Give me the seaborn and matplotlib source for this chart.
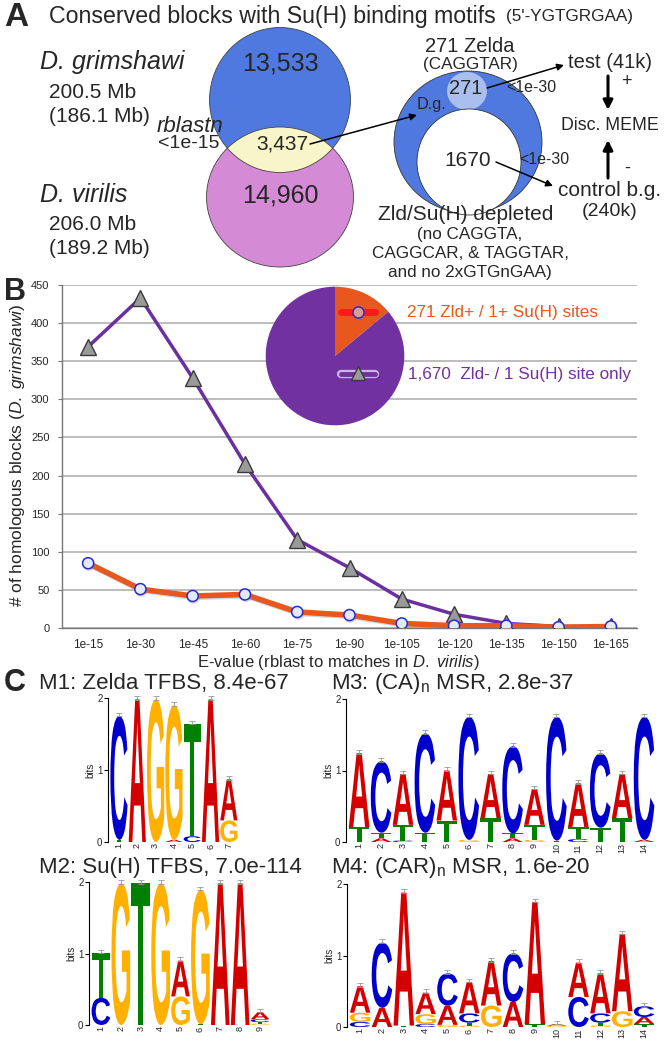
import numpy as np
import pandas as pd
import matplotlib
matplotlib.use('Agg')
import matplotlib.pyplot as plt
import matplotlib.patheffects as pe
from matplotlib.patches import Ellipse, PathPatch
from matplotlib.textpath import TextPath
from matplotlib.font_manager import FontProperties
from matplotlib import transforms
import seaborn as sns

# ---- datos panel B ----
evalues = ['1e-15', '1e-30', '1e-45', '1e-60', '1e-75', '1e-90',
           '1e-105', '1e-120', '1e-135', '1e-150', '1e-165']
zld_plus = [85, 51, 42, 44, 21, 17, 6, 3, 3, 1, 2]
zld_minus = [369, 433, 328, 215, 116, 79, 38, 18, 6, 2, 2]
pie_counts = [271, 1670]
pie_labels = ['271 Zld+ / 1+ Su(H) sites', '1,670  Zld- / 1 Su(H) site only']

# ---- datos panel A ----
venn_counts = ['13,533', '3,437', '14,960']
zelda_counts = ['271', '1670']

# ---- logos (letra, bits) de abajo hacia arriba ----
m1 = [[('T', 0.03), ('C', 1.72)], [('A', 1.98)], [('G', 1.98)],
      [('A', 0.03), ('G', 1.87)], [('C', 0.08), ('T', 1.56)], [('A', 1.98)],
      [('G', 0.3), ('A', 0.57)]]
m2 = [[('C', 0.38), ('T', 0.63)], [('G', 1.98)], [('T', 1.98)], [('G', 1.98)],
      [('G', 0.4), ('A', 0.5)], [('T', 0.01), ('G', 1.88)], [('A', 1.98)],
      [('A', 1.98)], [('G', 0.02), ('T', 0.02), ('C', 0.04), ('A', 0.1)]]
m3 = [[('T', 0.21), ('A', 1.03)], [('A', 0.05), ('T', 0.08), ('C', 1.0)],
      [('C', 0.02), ('T', 0.22), ('A', 0.71)], [('T', 0.13), ('C', 1.39)],
      [('T', 0.3), ('A', 0.7)], [('G', 0.03), ('C', 1.72)],
      [('T', 0.33), ('A', 0.62)], [('A', 0.05), ('T', 0.07), ('C', 1.22)],
      [('G', 0.03), ('T', 0.21), ('A', 0.5)], [('T', 0.02), ('C', 1.73)],
      [('C', 0.04), ('T', 0.17), ('A', 0.61)], [('T', 0.2), ('C', 1.04)],
      [('T', 0.33), ('A', 0.62)], [('A', 0.03), ('C', 1.72)]]
m4 = [[('C', 0.07), ('G', 0.13), ('A', 0.37)], [('A', 0.27), ('C', 0.91)],
      [('T', 0.02), ('A', 1.86)], [('C', 0.04), ('G', 0.14), ('A', 0.3)],
      [('G', 0.03), ('A', 0.27), ('C', 0.45)],
      [('G', 0.02), ('T', 0.04), ('C', 0.13), ('A', 0.44)],
      [('G', 0.3), ('A', 0.62)], [('A', 0.35), ('C', 0.68)],
      [('T', 0.04), ('A', 1.71)], [('G', 0.02), ('A', 0.02)],
      [('C', 0.42), ('A', 0.48)],
      [('G', 0.02), ('T', 0.04), ('C', 0.13), ('A', 0.56)],
      [('G', 0.22), ('A', 1.08)], [('T', 0.04), ('A', 0.1), ('C', 0.15)]]

BLUE = '#5079df'
PINK = '#d58ad6'
YELLOW = '#f8f6c8'
LIGHT = '#a9c0ee'
ORANGE = '#e8571e'
PURPLE = '#6b2fa0'
PIE_PURPLE = '#7231a1'
LOGO_COLORS = {'A': '#d40000', 'C': '#0000cc', 'G': '#ffb000', 'T': '#008000'}

sns.set_style('white')
plt.rcParams['font.family'] = ['Liberation Sans', 'DejaVu Sans']
plt.rcParams['mathtext.fontset'] = 'custom'
plt.rcParams['mathtext.rm'] = 'Liberation Sans'
plt.rcParams['mathtext.it'] = 'Liberation Sans:italic'

W, H = 664, 1043
fig = plt.figure(figsize=(W / 100, H / 100), dpi=100)


def rect(x0, y0, x1, y1):
    # pixeles (origen arriba a la izquierda) -> fraccion de figura
    return [x0 / W, 1 - y1 / H, (x1 - x0) / W, (y1 - y0) / H]


# ================= Panel B =================
axB = fig.add_axes(rect(62, 285, 637, 628))
df = pd.DataFrame({'evalue': evalues * 2,
                   'blocks': zld_minus + zld_plus,
                   'group': ['minus'] * len(evalues) + ['plus'] * len(evalues)})

sns.lineplot(data=df[df.group == 'minus'], x='evalue', y='blocks', sort=False,
             errorbar=None, color=PURPLE, lw=2.5, marker='^', markersize=11,
             markerfacecolor='#9a9a9a', markeredgecolor='#3a3a3a',
             markeredgewidth=1.0, ax=axB, zorder=3)
sns.lineplot(data=df[df.group == 'plus'], x='evalue', y='blocks', sort=False,
             errorbar=None, color=ORANGE, lw=4, marker='o', markersize=8,
             markerfacecolor='#e2eaf8', markeredgecolor='#2a2ad0',
             markeredgewidth=1.1, ax=axB, zorder=4,
             path_effects=[pe.SimpleLineShadow(offset=(0.6, -1.0),
                                               shadow_color='#7f8fb0', alpha=0.35),
                           pe.Normal()])

axB.set_xlim(-0.5, len(evalues) - 0.5)
axB.set_ylim(0, 450)
axB.set_yticks(range(0, 451, 50))
axB.set_xlabel('')
axB.set_ylabel('')
axB.grid(axis='y', color='#b8b8b8', lw=1.3)
axB.grid(axis='x', visible=False)
axB.set_axisbelow(True)
axB.set_facecolor('none')
for s in ['top', 'right']:
    axB.spines[s].set_visible(False)
for s in ['left', 'bottom']:
    axB.spines[s].set_color('#777777')
    axB.spines[s].set_linewidth(1.0)
axB.set_xticks(np.arange(-0.5, len(evalues), 1), minor=True)
axB.tick_params(axis='x', which='major', length=0, labelsize=8.5, pad=8)
axB.tick_params(axis='x', which='minor', length=5, color='#777777', direction='out')
axB.tick_params(axis='y', length=3, color='#777777', labelsize=8, pad=6,
                left=True, direction='out')

# pie inset
axP = fig.add_axes(rect(265, 286, 405, 426))
axP.pie(pie_counts, colors=[ORANGE, PIE_PURPLE], startangle=90,
        counterclock=False, wedgeprops=dict(linewidth=0))
axP.set_xlim(-1.01, 1.01)
axP.set_ylim(-1.01, 1.01)
axP.plot([0.08, 0.57], [0.63, 0.63], color='#ff1a1a', lw=5, solid_capstyle='round')
axP.plot([0.33], [0.63], marker='o', ms=8, mfc='#dba08c', mec='#2a2ad0', mew=1.1)
axP.plot([0.08, 0.57], [-0.26, -0.26], color='#c8b8e0', lw=6, solid_capstyle='round')
axP.plot([0.08, 0.57], [-0.26, -0.26], color=PIE_PURPLE, lw=3.5, solid_capstyle='round')
axP.plot([0.33], [-0.24], marker='^', ms=10, mfc='#9a9a9a', mec='#3a3a3a', mew=1.0)

# ================= Panel C (logos) =================
LFP = FontProperties(family='Liberation Sans', weight='bold')


def draw_logo(box, motif):
    n = len(motif)
    ax = fig.add_axes(rect(*box))
    ax.set_xlim(0.4, n + 0.5)
    ax.set_ylim(0, 2)
    tops = []
    for i, stack in enumerate(motif, start=1):
        y = 0
        for letter, h in stack:
            tp = TextPath((0, 0), letter, size=1, prop=LFP)
            bb = tp.get_extents()
            tr = (transforms.Affine2D().translate(-bb.x0, -bb.y0)
                  .scale(0.94 / bb.width, h / bb.height).translate(i - 0.47, y))
            ax.add_patch(PathPatch(tr.transform_path(tp),
                                   fc=LOGO_COLORS[letter], ec='none'))
            y += h
        tops.append(y)
    ax.errorbar(range(1, n + 1), [t + 0.02 for t in tops], yerr=0.025, fmt='none',
                ecolor='#999999', elinewidth=0.6, capsize=2.5, capthick=0.6,
                clip_on=False)
    ax.set_facecolor('none')
    for s in ['top', 'right', 'bottom']:
        ax.spines[s].set_visible(False)
    ax.spines['left'].set_linewidth(0.8)
    ax.spines['left'].set_color('black')
    ax.set_yticks([0, 1, 2])
    ax.set_xticks(range(1, n + 1))
    ax.set_xticklabels([str(k) for k in range(1, n + 1)], rotation=90)
    ax.tick_params(axis='y', length=3, labelsize=7, pad=1, left=True, color='black')
    ax.tick_params(axis='x', length=0, labelsize=6.5, pad=1)
    ax.set_ylabel('bits', fontsize=7, labelpad=1)
    return ax


draw_logo((108, 698, 238, 842), m1)
draw_logo((89, 882, 270, 1025), m2)
draw_logo((346, 699, 655, 842), m3)
draw_logo((347, 884, 655, 1027), m4)

# ================= overlay: panel A + textos =================
ax0 = fig.add_axes([0, 0, 1, 1])
ax0.set_xlim(0, W)
ax0.set_ylim(H, 0)
ax0.axis('off')

blue = Ellipse((280, 100), 141, 145, fc=BLUE, ec='none')
pink = Ellipse((280, 197), 147, 140, fc=PINK, ec='none')
ax0.add_patch(blue)
ax0.add_patch(pink)
lens = Ellipse((280, 197), 147, 140, fc=YELLOW, ec='none')
ax0.add_patch(lens)
lens.set_clip_path(blue)
ax0.add_patch(Ellipse((280, 100), 141, 145, fc='none', ec='#444444', lw=0.6))
ax0.add_patch(Ellipse((280, 197), 147, 140, fc='none', ec='#444444', lw=0.6))

ax0.add_patch(Ellipse((468, 142), 148, 142, fc=BLUE, ec='#333333', lw=0.6))
ax0.add_patch(Ellipse((467, 91), 40, 38, fc=LIGHT, ec='none'))
ax0.add_patch(Ellipse((469, 162), 104, 106, fc='white', ec='#333333', lw=0.6))

T = dict(va='center')
ax0.text(4, 18, 'A', fontsize=24, fontweight='bold', **T)
ax0.text(49, 16, 'Conserved blocks with Su(H) binding motifs', fontsize=16.7, **T)
ax0.text(506, 17, "(5'-YGTGRGAA)", fontsize=12.3, **T)

ax0.text(40, 62, 'D. grimshawi', fontsize=18, style='italic', **T)
ax0.text(49, 93, '200.5 Mb', fontsize=15, **T)
ax0.text(49, 117, '(186.1 Mb)', fontsize=15, **T)
ax0.text(40, 195, 'D. virilis', fontsize=18, style='italic', **T)
ax0.text(49, 225, '206.0 Mb', fontsize=15, **T)
ax0.text(49, 248, '(189.2 Mb)', fontsize=15, **T)
ax0.text(157, 126, 'rblastn', fontsize=16, style='italic', **T)
ax0.text(158, 144, '<1e-15', fontsize=14, **T)

ax0.text(280, 63, venn_counts[0], fontsize=18, ha='center', **T)
ax0.text(282, 144, venn_counts[1], fontsize=15, ha='center', **T)
ax0.text(280, 195, venn_counts[2], fontsize=18, ha='center', **T)

ax0.text(470, 47, '271 Zelda', fontsize=14.5, ha='center', **T)
ax0.text(470, 65, '(CAGGTAR)', fontsize=12.3, ha='center', **T)
ax0.text(466, 88, zelda_counts[0], fontsize=14.5, ha='center', **T)
ax0.text(432, 104, 'D.g.', fontsize=11.7, ha='center', **T)
ax0.text(506, 87, '<1e-30', fontsize=11.5, **T)
ax0.text(519, 160, '<1e-30', fontsize=11.5, **T)
ax0.text(468, 161, zelda_counts[1], fontsize=15, ha='center', **T)
ax0.text(568, 62, 'test (41k)', fontsize=14.5, **T)
ax0.text(626, 82, '+', fontsize=13, ha='center', **T)
ax0.text(610, 125, 'Disc. MEME', fontsize=12.8, ha='center', **T)
ax0.text(627, 168, '-', fontsize=13, ha='center', **T)
ax0.text(558, 190, 'control b.g.', fontsize=15, **T)
ax0.text(610, 211, '(240k)', fontsize=14, ha='center', **T)
ax0.text(466, 215, 'Zld/Su(H) depleted', fontsize=15, ha='center', **T)
ax0.text(470, 235, '(no CAGGTA,', fontsize=12.3, ha='center', **T)
ax0.text(470, 254, 'CAGGCAR, & TAGGTAR,', fontsize=12.3, ha='center', **T)
ax0.text(470, 273, 'and no 2xGTGnGAA)', fontsize=12.3, ha='center', **T)

arr = dict(arrowstyle='-|>', color='black', lw=1.1, mutation_scale=10,
           shrinkA=0, shrinkB=0)
ax0.annotate('', xy=(417, 115), xytext=(310, 144), arrowprops=arr)
ax0.annotate('', xy=(564, 65), xytext=(487, 88), arrowprops=arr)
ax0.annotate('', xy=(553, 186), xytext=(496, 162), arrowprops=arr)
big = dict(arrowstyle='-|>', color='black', lw=2.2, mutation_scale=14,
           shrinkA=0, shrinkB=0)
ax0.annotate('', xy=(608, 110), xytext=(608, 76), arrowprops=big)
ax0.annotate('', xy=(608, 140), xytext=(608, 178), arrowprops=big)

# textos panel B
ax0.text(4, 292, 'B', fontsize=22, fontweight='bold', **T)
ax0.text(18, 455, '# of homologous blocks ($\\it{D.\\ grimshawi}$)', fontsize=12.5,
         rotation=90, ha='center', **T)
ax0.text(338, 662, 'E-value (rblast to matches in $\\it{D.\\ virilis}$)', fontsize=12,
         ha='center', **T)
ax0.text(407, 312, pie_labels[0], fontsize=12.3, color=ORANGE, **T)
ax0.text(408, 375, pie_labels[1], fontsize=12.3, color=PIE_PURPLE, **T)

# textos panel C
ax0.text(4, 683, 'C', fontsize=22, fontweight='bold', **T)
ax0.text(39, 683, 'M1: Zelda TFBS, 8.4e-67', fontsize=16, **T)
ax0.text(331, 683, 'M3: (CA)$_\\mathregular{n}$ MSR, 2.8e-37', fontsize=16, **T)
ax0.text(39, 868, 'M2: Su(H) TFBS, 7.0e-114', fontsize=16, **T)
ax0.text(331, 868, 'M4: (CAR)$_\\mathregular{n}$ MSR, 1.6e-20', fontsize=16, **T)

plt.savefig('out.png', dpi=100)
